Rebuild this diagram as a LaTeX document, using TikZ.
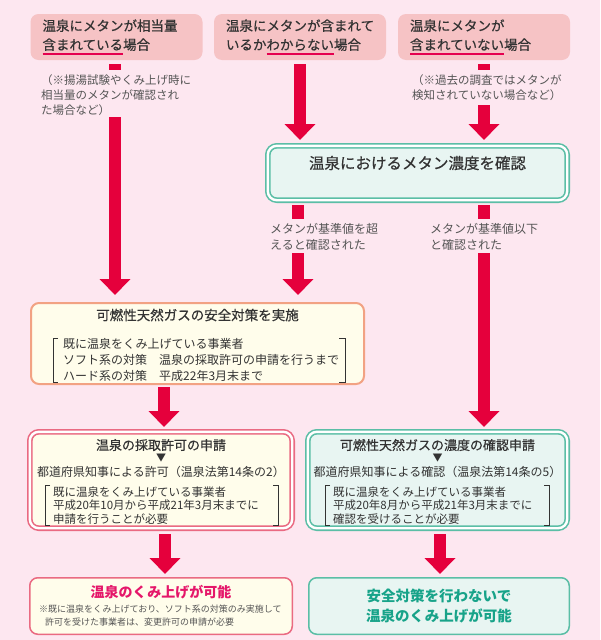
\documentclass[tikz,border=0pt]{standalone}
\usepackage{fontspec}
\setmainfont{Noto Sans CJK JP}
\newfontfamily\jpmed[FakeBold=0.5]{Noto Sans CJK JP}
\usetikzlibrary{arrows.meta}
\definecolor{bg}{HTML}{FDE7F0}
\definecolor{topfill}{HTML}{F6C3C5}
\definecolor{arrowred}{HTML}{E5003C}
\definecolor{textdark}{HTML}{333333}
\definecolor{notegray}{HTML}{555555}
\definecolor{tealline}{HTML}{5BBEA6}
\definecolor{tealfill}{HTML}{E8F5F2}
\definecolor{pinkline}{HTML}{EA6A82}
\definecolor{yellowfill}{HTML}{FFFDEB}
\definecolor{orangeline}{HTML}{F2A283}
\definecolor{ulred}{HTML}{E5004F}
\definecolor{pinktitle}{HTML}{E5176A}
\definecolor{tealtext}{HTML}{17A389}
\newsavebox\myulbox
\newcommand\myul[1]{\leavevmode\sbox\myulbox{#1}\rlap{\textcolor{ulred}{\rule[-4.8pt]{\wd\myulbox}{1.6pt}}}\usebox\myulbox}
\newcommand\fs[2]{\fontsize{#1}{#2}\selectfont}
\begin{document}
\begin{tikzpicture}[x=1pt,y=-1pt,
  topbox/.style={fill=topfill, rounded corners=8pt, minimum width=172pt, minimum height=46pt,
    inner xsep=12pt, text width=148pt, align=left, font=\jpmed\fs{13.5}{19}, text=textdark},
  notetxt/.style={inner sep=0pt, anchor=west, align=left, text=notegray},
  redbar/.style={draw=arrowred, line width=12pt},
  redarrow/.style={draw=arrowred, line width=12pt, -{Triangle[width=30pt,length=16pt]}},
  dblteal/.style={draw=tealline, line width=1.6pt, double=white, double distance=2.4pt,
    fill=tealfill, rounded corners=9pt, inner sep=0pt},
  dblpink/.style={draw=pinkline, line width=1.6pt, double=white, double distance=2.4pt,
    fill=yellowfill, rounded corners=9pt, inner sep=0pt},
  orbox/.style={draw=orangeline, line width=2pt, fill=yellowfill, rounded corners=8pt, inner sep=0pt},
  finpink/.style={draw=pinkline, line width=1.5pt, fill=yellowfill, rounded corners=8pt, inner sep=0pt},
  finteal/.style={draw=tealline, line width=1.5pt, fill=tealfill, rounded corners=8pt, inner sep=0pt},
  title/.style={inner sep=0pt, text=textdark},
  brk/.style={draw=textdark, line width=0.9pt},
]
\useasboundingbox (0,0) rectangle (600,640);
\fill[bg] (0,0) rectangle (600,640);

% top boxes
\node[topbox] (b1) at (116.5,37) {温泉にメタンが相当量\\\myul{含まれている}場合};
\node[topbox] (b2) at (300,37) {温泉にメタンが含まれて\\いるか\myul{わからない}場合};
\node[topbox] (b3) at (484,37) {温泉にメタンが\\\myul{含まれていない}場合};

% notes under top boxes
\node[notetxt, font=\fs{11.5}{15}] (n1) at (41,95) {（※揚湯試験やくみ上げ時に\\相当量のメタンが確認され\\た場合など）};
\node[notetxt, font=\fs{11.5}{15}] (n3) at (412,87.5) {（※過去の調査ではメタンが\\検知されていない場合など）};

% teal check box
\node[dblteal, minimum width=299.4pt, minimum height=54.4pt] (tb1) at (417.5,173) {};
\node[title, font=\jpmed\fs{15.5}{18}] (t1) at (417.5,163) {温泉におけるメタン濃度を確認};

% labels under teal box
\node[notetxt, font=\fs{12}{16}] (m1) at (270,237) {メタンが基準値を超\\えると確認された};
\node[notetxt, font=\fs{12}{16}] (m2) at (430,237) {メタンが基準値以下\\と確認された};

% orange box
\node[orbox, minimum width=333pt, minimum height=81pt] (ob) at (197.5,343.5) {};
\node[title, font=\jpmed\fs{13.5}{16}] (ot) at (197.5,315) {可燃性天然ガスの安全対策を実施};
\node[notetxt, text=textdark, font=\fs{12}{16}] (ol) at (63,360) {既に温泉をくみ上げている事業者\\ソフト系の対策　温泉の採取許可の申請を行うまで\\ハード系の対策　平成22年3月末まで};
\draw[brk] (58,338) -- (53,338) -- (53,382) -- (58,382);
\draw[brk] (339,338) -- (345,338) -- (345,382) -- (339,382);

% pink double box
\node[dblpink, minimum width=262.4pt, minimum height=96.4pt] (pb) at (161,480) {};
\node[title, font=\jpmed\fs{13}{16}] (pt) at (161,445) {温泉の採取許可の申請};
\node[title, font=\fs{10}{12}] (pv) at (161,458) {▼};
\node[title, font=\fs{12}{14}] (ps) at (161,472) {都道府県知事による許可（温泉法第14条の2）};
\node[notetxt, text=textdark, font=\fs{11.5}{13.5}] (pl) at (53,505.5) {既に温泉をくみ上げている事業者\\平成20年10月から平成21年3月末までに\\申請を行うことが必要};
\draw[brk] (50,485) -- (45,485) -- (45,525) -- (50,525);
\draw[brk] (273,485) -- (278,485) -- (278,525) -- (273,525);

% teal double box
\node[dblteal, minimum width=259.4pt, minimum height=96.4pt] (tb2) at (437.5,480) {};
\node[title, font=\jpmed\fs{13}{16}] (tt) at (437.5,445) {可燃性天然ガスの濃度の確認申請};
\node[title, font=\fs{10}{12}] (tv) at (437.5,458) {▼};
\node[title, font=\fs{12}{14}] (ts) at (437.5,472) {都道府県知事による確認（温泉法第14条の5）};
\node[notetxt, text=textdark, font=\fs{11.5}{13.5}] (tl) at (333,505.5) {既に温泉をくみ上げている事業者\\平成20年8月から平成21年3月末までに\\確認を受けることが必要};
\draw[brk] (330,485) -- (325,485) -- (325,525) -- (330,525);
\draw[brk] (544,485) -- (549,485) -- (549,525) -- (544,525);

% final boxes
\node[finpink, minimum width=262.5pt, minimum height=56.5pt] (fp) at (161,606) {};
\node[title, text=pinktitle, font=\bfseries\fs{14}{16}] (fpt) at (161,592) {温泉のくみ上げが可能};
\node[notetxt, font=\fs{9}{12.5}] (fpn) at (39,615.5) {※既に温泉をくみ上げており、ソフト系の対策のみ実施して\\\hspace*{6pt}許可を受けた事業者は、変更許可の申請が必要};
\node[finteal, minimum width=260.5pt, minimum height=56.5pt, align=center, text=tealtext, font=\bfseries\fs{14.5}{20}] (ft) at (439,606) {安全対策を行わないで\\温泉のくみ上げが可能};

% coordinates for arrow breaks
\coordinate (a1s) at (115,64);
\coordinate (a1e) at (115,70);
\coordinate (a1r) at (115,117);
\coordinate (a3s) at (484,64);
\coordinate (a3e) at (484,70);
\coordinate (a3r) at (484,105);
\coordinate (l1s) at (298,205);
\coordinate (l1e) at (298,219);
\coordinate (l1r) at (298,253);
\coordinate (r1s) at (484,205);
\coordinate (r1e) at (484,219);
\coordinate (r1r) at (484,253);
\coordinate (o1) at (164,387);
\coordinate (p1) at (165,534);
\coordinate (q1) at (440,534);

% arrows
\draw[redbar] (a1s) -- (a1e);
\draw[redarrow, shorten >=7pt] (a1r) -- (a1r |- ob.north);
\draw[redarrow, shorten <=4pt, shorten >=5pt] (b2.south) -- (b2.south |- tb1.north);
\draw[redbar] (a3s) -- (a3e);
\draw[redarrow, shorten >=5pt] (a3r) -- (a3r |- tb1.north);
\draw[redbar] (l1s) -- (l1e);
\draw[redarrow, shorten >=7pt] (l1r) -- (l1r |- ob.north);
\draw[redbar] (r1s) -- (r1e);
\draw[redarrow, shorten >=4pt] (r1r) -- (r1r |- tb2.north);
\draw[redarrow, shorten >=4pt] (o1) -- (o1 |- pb.north);
\draw[redarrow, shorten >=3pt] (p1) -- (p1 |- fp.north);
\draw[redarrow, shorten >=3pt] (q1) -- (q1 |- ft.north);
\end{tikzpicture}
\end{document}
